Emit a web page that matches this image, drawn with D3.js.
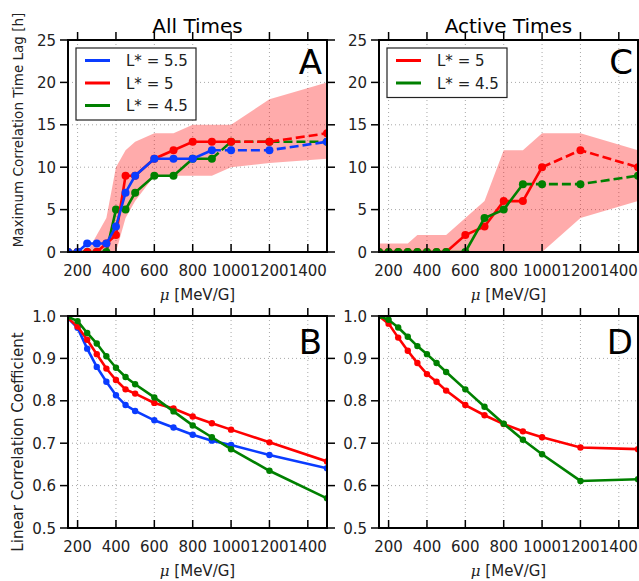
<!DOCTYPE html>
<html>
<head>
<meta charset="utf-8">
<script src="https://cdn.jsdelivr.net/npm/d3@7"></script>
<style>
body { margin: 0; background: #fff; }
text { font-family: "DejaVu Sans", sans-serif; fill: #000; }
</style>
</head>
<body>
<div id="chart"></div>
<script>
const width = 639
const height = 581

// x values shared by every panel
const mu = [150, 200, 250, 300, 350, 400, 450, 500, 600, 700, 800, 900, 1000, 1200, 1500]
const xTicks = [200, 400, 600, 800, 1000, 1200, 1400]
const lagTicks = [0, 5, 10, 15, 20, 25]
const corrTicks = [0.5, 0.6, 0.7, 0.8, 0.9, 1.0]

// A: max correlation time lag, all times
const lagAll55 = [0, 0, 1, 1, 1, 3, 7, 9, 11, 11, 11, 12, 12, 12, 13]
const lagAll5 = [0, 0, 0, 0, 1, 2, 9, 9, 11, 12, 13, 13, 13, 13, 14]
const lagAll45 = [0, 0, 0, 0, 0, 5, 5, 7, 9, 9, 11, 11, 13, 13, 13]
const bandAllLo = [0, 0, 0, 0, 0, 0, 4, 6, 9, 9, 9, 9, 10, 10.5, 11]
const bandAllHi = [0, 0, 0, 2, 4, 10, 12, 13, 14, 14, 15, 15, 15, 18, 20]

// C: max correlation time lag, active times
const lagAct5 = [0, 0, 0, 0, 0, 0, 0, 0, 2, 3, 6, 6, 10, 12, 10]
const lagAct45 = [0, 0, 0, 0, 0, 0, 0, 0, 0, 4, 5, 8, 8, 8, 9]
const bandActLo = [0, 0, 0, 0, 0, 0, 0, 0, 0, 0, 0, 0, 0, 4, 6]
const bandActHi = [1, 1, 1, 1, 2, 2, 2, 2, 4, 6, 12, 12, 14, 14, 12]

// B: linear correlation coefficient, all times
const corrAll55 = [0.995, 0.972, 0.923, 0.88, 0.845, 0.813, 0.79, 0.776, 0.754, 0.737, 0.72, 0.706, 0.696, 0.672, 0.641]
const corrAll5 = [0.995, 0.975, 0.944, 0.91, 0.876, 0.849, 0.827, 0.817, 0.795, 0.782, 0.763, 0.747, 0.732, 0.702, 0.657]
const corrAll45 = [0.998, 0.988, 0.96, 0.935, 0.905, 0.878, 0.856, 0.839, 0.808, 0.775, 0.742, 0.714, 0.686, 0.635, 0.57]

// D: linear correlation coefficient, active times
const corrAct5 = [1.0, 0.982, 0.949, 0.918, 0.889, 0.863, 0.845, 0.824, 0.79, 0.766, 0.745, 0.728, 0.714, 0.69, 0.686]
const corrAct45 = [1.0, 0.991, 0.973, 0.951, 0.929, 0.91, 0.889, 0.868, 0.827, 0.786, 0.746, 0.708, 0.674, 0.611, 0.615]

const blue = "#0a3cff"
const red = "#ff0000"
const green = "#008000"

const svg = d3.select("#chart")
    .append("svg")
    .attr("width", width)
    .attr("height", height)

const defs = svg.append("defs")

function drawPanel(p) {
    const x = d3.scaleLinear().domain([150, 1500]).range([p.x0, p.x1])
    const y = d3.scaleLinear().domain(p.yDomain).range([p.y1, p.y0])
    const g = svg.append("g")

    defs.append("clipPath").attr("id", "clip" + p.letter)
        .append("rect")
        .attr("x", p.x0).attr("y", p.y0)
        .attr("width", p.x1 - p.x0).attr("height", p.y1 - p.y0)

    // dotted grid
    g.selectAll(".gx").data(xTicks).join("line")
        .attr("x1", d => x(d)).attr("x2", d => x(d))
        .attr("y1", p.y0).attr("y2", p.y1)
        .attr("stroke", "#a8a8a8").attr("stroke-width", 1)
        .attr("stroke-dasharray", "1,3")
    g.selectAll(".gy").data(p.yTicks).join("line")
        .attr("x1", p.x0).attr("x2", p.x1)
        .attr("y1", d => y(d)).attr("y2", d => y(d))
        .attr("stroke", "#a8a8a8").attr("stroke-width", 1)
        .attr("stroke-dasharray", "1,3")

    const plot = g.append("g").attr("clip-path", "url(#clip" + p.letter + ")")

    // shaded range
    if (p.band) {
        const area = d3.area()
            .x((d, i) => x(mu[i]))
            .y0((d, i) => y(p.band.lo[i]))
            .y1((d, i) => y(p.band.hi[i]))
        plot.append("path")
            .datum(p.band.lo)
            .attr("d", area)
            .attr("fill", red)
            .attr("fill-opacity", 0.33)
    }

    const line = d3.line().x(d => x(d[0])).y(d => y(d[1]))

    p.series.forEach(s => {
        const pts = mu.map((m, i) => [m, s.values[i]])
        const k = s.dashFrom === undefined ? pts.length - 1 : s.dashFrom
        plot.append("path")
            .datum(pts.slice(0, k + 1))
            .attr("d", line)
            .attr("fill", "none")
            .attr("stroke", s.color)
            .attr("stroke-width", 2.6)
        if (k < pts.length - 1) {
            plot.append("path")
                .datum(pts.slice(k))
                .attr("d", line)
                .attr("fill", "none")
                .attr("stroke", s.color)
                .attr("stroke-width", 2.6)
                .attr("stroke-dasharray", "9,4")
        }
        plot.selectAll(null).data(pts).join("circle")
            .attr("cx", d => x(d[0]))
            .attr("cy", d => y(d[1]))
            .attr("r", p.markerR)
            .attr("fill", s.color)
    })

    // frame
    g.append("rect")
        .attr("x", p.x0).attr("y", p.y0)
        .attr("width", p.x1 - p.x0).attr("height", p.y1 - p.y0)
        .attr("fill", "none").attr("stroke", "#000").attr("stroke-width", 2)

    // ticks: bottom inward, top / left / right outward
    const tk = 8
    g.selectAll(".tb").data(xTicks).join("line")
        .attr("x1", d => x(d)).attr("x2", d => x(d))
        .attr("y1", p.y1).attr("y2", p.y1 - tk)
        .attr("stroke", "#000").attr("stroke-width", 1.5)
    g.selectAll(".tt").data(xTicks).join("line")
        .attr("x1", d => x(d)).attr("x2", d => x(d))
        .attr("y1", p.y0).attr("y2", p.y0 - tk)
        .attr("stroke", "#000").attr("stroke-width", 1.5)
    g.selectAll(".tl").data(p.yTicks).join("line")
        .attr("x1", p.x0 - tk).attr("x2", p.x0)
        .attr("y1", d => y(d)).attr("y2", d => y(d))
        .attr("stroke", "#000").attr("stroke-width", 1.5)
    g.selectAll(".tr").data(p.yTicks).join("line")
        .attr("x1", p.x1).attr("x2", p.x1 + tk)
        .attr("y1", d => y(d)).attr("y2", d => y(d))
        .attr("stroke", "#000").attr("stroke-width", 1.5)

    // tick labels
    g.selectAll(".lx").data(xTicks).join("text")
        .attr("x", d => x(d))
        .attr("y", p.y1 + 24)
        .attr("text-anchor", "middle")
        .attr("font-size", 15)
        .style("fill", "#222")
        .text(d => d)
    g.selectAll(".ly").data(p.yTicks).join("text")
        .attr("x", p.x0 - 12)
        .attr("y", d => y(d) + 5.5)
        .attr("text-anchor", "end")
        .attr("font-size", 15)
        .style("fill", "#222")
        .text(d => p.yFmt(d))

    // x axis label
    const xl = g.append("text")
        .attr("x", (p.x0 + p.x1) / 2)
        .attr("y", p.y1 + 48)
        .attr("text-anchor", "middle")
        .attr("font-size", 15)
        .style("fill", "#222")
    xl.append("tspan").attr("font-style", "italic").attr("font-family", "DejaVu Serif").text("\u03bc")
    xl.append("tspan").text(" [MeV/G]")

    // panel letter
    g.append("text")
        .attr("x", p.x1 - 5)
        .attr("y", p.letterY)
        .attr("text-anchor", "end")
        .attr("font-size", 34)
        .text(p.letter)

    if (p.title) {
        g.append("text")
            .attr("x", (p.x0 + p.x1) / 2)
            .attr("y", p.y0 - 7)
            .attr("text-anchor", "middle")
            .attr("font-size", 20)
            .text(p.title)
    }

    if (p.legend) {
        const lg = g.append("g")
        const lx = p.x0 + 8, ly = p.y0 + 8
        const rowH = 22.5
        lg.append("rect")
            .attr("x", lx).attr("y", ly)
            .attr("width", 120).attr("height", 27 + rowH * (p.legend.length - 1))
            .attr("fill", "#fff").attr("stroke", "#222").attr("stroke-width", 1.2)
        p.legend.forEach((s, i) => {
            const cy = ly + 12.5 + i * rowH
            lg.append("line")
                .attr("x1", lx + 9).attr("x2", lx + 34)
                .attr("y1", cy).attr("y2", cy)
                .attr("stroke", s.color).attr("stroke-width", 3)
            lg.append("text")
                .attr("x", lx + 50).attr("y", cy + 5.5)
                .attr("font-size", 15)
                .style("fill", "#222")
                .text(s.label)
        })
    }
}

const lagFmt = d => d
const corrFmt = d3.format(".1f")

drawPanel({
    letter: "A", title: "All Times",
    x0: 68, x1: 327, y0: 40, y1: 252, letterY: 74,
    yDomain: [0, 25], yTicks: lagTicks, yFmt: lagFmt, markerR: 4,
    band: {lo: bandAllLo, hi: bandAllHi},
    series: [
        {values: lagAll45, color: green, dashFrom: 11},
        {values: lagAll5, color: red, dashFrom: 12},
        {values: lagAll55, color: blue, dashFrom: 11}
    ],
    legend: [
        {label: "L* = 5.5", color: blue},
        {label: "L* = 5", color: red},
        {label: "L* = 4.5", color: green}
    ]
})

drawPanel({
    letter: "C", title: "Active Times",
    x0: 379, x1: 638, y0: 40, y1: 252, letterY: 74,
    yDomain: [0, 25], yTicks: lagTicks, yFmt: lagFmt, markerR: 4,
    band: {lo: bandActLo, hi: bandActHi},
    series: [
        {values: lagAct5, color: red, dashFrom: 12},
        {values: lagAct45, color: green, dashFrom: 11}
    ],
    legend: [
        {label: "L* = 5", color: red},
        {label: "L* = 4.5", color: green}
    ]
})

drawPanel({
    letter: "B",
    x0: 68, x1: 327, y0: 316, y1: 528, letterY: 354,
    yDomain: [0.5, 1.0], yTicks: corrTicks, yFmt: corrFmt, markerR: 3.2,
    series: [
        {values: corrAll55, color: blue},
        {values: corrAll5, color: red},
        {values: corrAll45, color: green}
    ]
})

drawPanel({
    letter: "D",
    x0: 379, x1: 638, y0: 316, y1: 528, letterY: 354,
    yDomain: [0.5, 1.0], yTicks: corrTicks, yFmt: corrFmt, markerR: 3.2,
    series: [
        {values: corrAct5, color: red},
        {values: corrAct45, color: green}
    ]
})

// y axis titles
svg.append("text")
    .attr("transform", "translate(23,130) rotate(-90)")
    .attr("text-anchor", "middle")
    .attr("font-size", 13.5)
    .style("fill", "#222")
    .text("Maximum Correlation Time Lag [h]")

svg.append("text")
    .attr("transform", "translate(23,442) rotate(-90)")
    .attr("text-anchor", "middle")
    .attr("font-size", 15)
    .style("fill", "#222")
    .text("Linear Correlation Coefficient")
</script>
</body>
</html>
